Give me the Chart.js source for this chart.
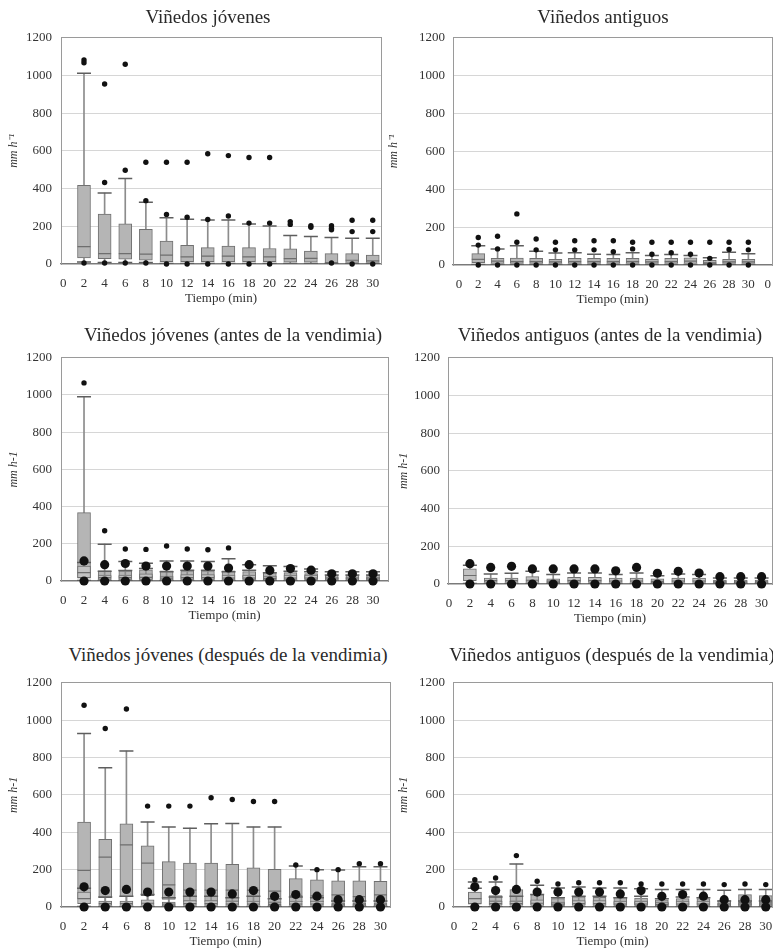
<!DOCTYPE html>
<html>
<head>
<meta charset="utf-8">
<script src="https://cdn.jsdelivr.net/npm/chart.js@4.4.0/dist/chart.umd.min.js"></script>
<style>
  body { margin: 0; background: #fff; width: 773px; height: 952px; position: relative; overflow: hidden; font-family: "Liberation Serif", serif; }
  canvas { position: absolute; }
  .ttl { position: absolute; font-size: 19px; color: #2a2a2a; white-space: nowrap; transform: translate(-50%, -50%); }
</style>
</head>
<body>
<script>
// x categories (minutes) and axis ticks
const tiempo = [2, 4, 6, 8, 10, 12, 14, 16, 18, 20, 22, 24, 26, 28, 30];
const ejeX = [0, 2, 4, 6, 8, 10, 12, 14, 16, 18, 20, 22, 24, 26, 28, 30];
const ejeXLabels = ['0', '2', '4', '6', '8', '10', '12', '14', '16', '18', '20', '22', '24', '26', '28', '30'];
// the "Viñedos antiguos" panel has an extra empty category labelled 0
const ejeXAnt = [0, 2, 4, 6, 8, 10, 12, 14, 16, 18, 20, 22, 24, 26, 28, 30, 32];
const ejeXAntLabels = ['0', '2', '4', '6', '8', '10', '12', '14', '16', '18', '20', '22', '24', '26', '28', '30', '0'];

// Viñedos jóvenes
const jovMin = [10, 8, 8, 8, 3, 3, 3, 3, 3, 3, 3, 3, 2, 2, 2];
const jovQ1 = [32, 28, 25, 20, 12, 12, 12, 12, 12, 12, 10, 10, 3, 8, 8];
const jovMed = [92, 55, 55, 52, 47, 38, 42, 42, 38, 38, 28, 30, 8, 20, 17];
const jovQ3 = [418, 265, 213, 184, 121, 99, 87, 95, 87, 82, 80, 68, 55, 55, 47];
const jovMax = [1012, 376, 454, 328, 246, 238, 234, 234, 212, 202, 151, 146, 141, 136, 136];
const jovOut = [[1082, 1068, 5], [955, 432, 5], [1060, 497, 5], [540, 336, 5], [540, 263, 0], [540, 248, 0], [585, 236, 0],
  [575, 255, 0], [565, 217, 0], [565, 217, 0], [225, 210], [203, 195], [203, 190, 182, 5], [232, 172, 0], [232, 172, 0]];

// Viñedos antiguos
const antMin = [2, 2, 2, 2, 2, 2, 2, 2, 2, 2, 2, 2, 2, 2, 2];
const antQ1 = [12, 8, 8, 8, 8, 8, 8, 8, 8, 8, 8, 8, 6, 8, 8];
const antMed = [30, 20, 18, 18, 16, 18, 18, 18, 18, 16, 18, 20, 12, 16, 16];
const antQ3 = [60, 35, 37, 35, 30, 35, 35, 35, 35, 30, 35, 38, 25, 30, 30];
const antMax = [102, 85, 102, 72, 64, 65, 57, 55, 65, 50, 55, 50, 38, 68, 60];
const antOut = [[145, 105, 0], [152, 85, 0], [270, 120, 0], [137, 80, 0], [120, 80, 0], [128, 80, 0], [128, 80, 0],
  [128, 70, 0], [120, 85, 0], [120, 57, 0], [120, 65, 0], [120, 57, 0], [120, 35, 0], [120, 82, 0], [120, 80, 0]];

// Viñedos jóvenes (antes de la vendimia)
const jovAntesMin = [3, 3, 3, 3, 3, 3, 3, 3, 3, 3, 3, 3, 2, 2, 2];
const jovAntesQ1 = [15, 8, 8, 8, 8, 8, 8, 8, 8, 8, 8, 8, 5, 5, 5];
const jovAntesMed = [45, 25, 25, 25, 22, 25, 25, 25, 25, 22, 22, 22, 15, 15, 15];
const jovAntesQ3 = [368, 55, 55, 60, 55, 55, 55, 55, 50, 45, 45, 40, 30, 30, 30];
const jovAntesMax = [990, 198, 105, 95, 108, 108, 105, 120, 88, 82, 78, 65, 50, 50, 50];
const jovAntesOut = [[1065], [270], [172], [170], [188], [172], [168], [178], [], [], [], [], [], [], []];

// Viñedos antiguos (antes de la vendimia) - also overlaid on the other lower panels
const antAntesMin = [2, 2, 2, 2, 2, 2, 2, 2, 2, 2, 2, 2, 2, 2, 2];
const antAntesQ1 = [18, 8, 8, 8, 6, 8, 8, 8, 8, 6, 8, 8, 5, 5, 5];
const antAntesMed = [45, 18, 18, 20, 15, 18, 18, 16, 16, 14, 16, 16, 12, 12, 12];
const antAntesQ3 = [80, 32, 32, 39, 27, 35, 35, 32, 32, 27, 32, 32, 21, 21, 21];
const antAntesMax = [100, 53, 57, 67, 50, 58, 58, 50, 58, 44, 53, 50, 32, 32, 32];
const antAntesOut = [[108, 0], [88, 0], [94, 0], [80, 0], [80, 0], [80, 0], [80, 0], [70, 0], [88, 0], [57, 0],
  [67, 0], [58, 0], [39, 0], [39, 0], [39, 0]];

// Viñedos jóvenes (después de la vendimia)
const jovDespMin = [3, 3, 3, 3, 3, 3, 3, 3, 3, 3, 3, 3, 3, 3, 3];
const jovDespQ1 = [45, 50, 55, 60, 40, 30, 30, 30, 28, 25, 28, 28, 25, 25, 25];
const jovDespMed = [196, 267, 333, 235, 118, 90, 90, 90, 90, 85, 60, 60, 65, 55, 65];
const jovDespQ3 = [455, 362, 445, 327, 243, 235, 235, 228, 210, 202, 152, 145, 140, 140, 137];
const jovDespMax = [928, 745, 835, 455, 428, 422, 445, 447, 428, 428, 220, 200, 198, 215, 215];
const jovDespOut = [[1080], [955], [1060], [540], [540], [540], [585], [575], [565], [565], [225], [200], [200], [232], [232]];

// Viñedos antiguos (después de la vendimia)
const antDespMin = [2, 2, 2, 2, 2, 2, 2, 2, 2, 2, 2, 2, 2, 2, 2];
const antDespQ1 = [15, 12, 12, 10, 8, 10, 8, 8, 8, 6, 8, 8, 6, 8, 8];
const antDespMed = [45, 30, 30, 28, 20, 25, 22, 22, 22, 18, 20, 20, 15, 25, 22];
const antDespQ3 = [79, 61, 93, 66, 45, 54, 52, 52, 48, 39, 45, 45, 34, 66, 61];
const antDespMax = [134, 134, 230, 116, 102, 107, 102, 102, 98, 93, 93, 93, 89, 93, 93];
const antDespOut = [[146], [155], [275], [138], [123], [130], [130], [130], [123], [123], [123], [123], [120], [123], [120]];

Chart.defaults.font.family = '"Liberation Serif", serif';
Chart.defaults.color = '#333';

const jov = { min: jovMin, q1: jovQ1, med: jovMed, q3: jovQ3, max: jovMax, out: jovOut };
const ant = { min: antMin, q1: antQ1, med: antMed, q3: antQ3, max: antMax, out: antOut };
const jovAntes = { min: jovAntesMin, q1: jovAntesQ1, med: jovAntesMed, q3: jovAntesQ3, max: jovAntesMax, out: jovAntesOut };
const antAntes = { min: antAntesMin, q1: antAntesQ1, med: antAntesMed, q3: antAntesQ3, max: antAntesMax, out: antAntesOut, big: true };
const jovDesp = { min: jovDespMin, q1: jovDespQ1, med: jovDespMed, q3: jovDespQ3, max: jovDespMax, out: jovDespOut };
const antDesp = { min: antDespMin, q1: antDespQ1, med: antDespMed, q3: antDespQ3, max: antDespMax, out: antDespOut };

// plot boxes: [left, top, right, bottom] in page px, plus canvas left and title positions
const panels = [
  { title: 'Viñedos jóvenes', tx: 208, ty: 17, yTitle: 'mm h⁻¹', series: [jov], ticks: ejeX, labels: ejeXLabels,
    plot: [61, 33, 381, 264], cl: 0, xmin: -0.23, xmax: 30.8, yPad: 9, tPad: 7 },
  { title: 'Viñedos antiguos', tx: 603, ty: 17, yTitle: 'mm h⁻¹', series: [ant], ticks: ejeXAnt, labels: ejeXAntLabels,
    plot: [453, 34, 772, 265], cl: 385, xmin: -0.62, xmax: 32.45, yPad: 8, tPad: 2 },
  { title: 'Viñedos jóvenes (antes de la vendimia)', tx: 233, ty: 335, yTitle: 'mm h-1', series: [jovAntes, antAntes], ticks: ejeX, labels: ejeXLabels,
    plot: [61, 353, 388, 581], cl: 0, xmin: -0.23, xmax: 31.45, yPad: 9, tPad: 7 },
  { title: 'Viñedos antiguos (antes de la vendimia)', tx: 610, ty: 335, yTitle: 'mm h-1', series: [antAntes], ticks: ejeX, labels: ejeXLabels,
    plot: [448, 354, 772, 584], cl: 385, xmin: -0.1, xmax: 31.0, yPad: 8, tPad: 12 },
  { title: 'Viñedos jóvenes (después de la vendimia)', tx: 228, ty: 655, yTitle: 'mm h-1', series: [jovDesp, antAntes], ticks: ejeX, labels: ejeXLabels,
    plot: [61, 678, 390, 907], cl: 0, xmin: -0.18, xmax: 30.9, yPad: 9, tPad: 7 },
  { title: 'Viñedos antiguos (después de la vendimia)', tx: 612, ty: 655, yTitle: 'mm h-1', series: [antDesp, antAntes], ticks: ejeX, labels: ejeXLabels,
    plot: [453, 679, 772, 907], cl: 385, xmin: -0.1, xmax: 30.6, yPad: 8, tPad: 12 }
];

function boxDatasets(s, base) {
  const pts = arr => tiempo.map((t, i) => ({ x: t, y: arr[i] }));
  const range = (a, b) => tiempo.map((t, i) => ({ x: t, y: [a[i], b[i]] }));
  const outliers = tiempo.flatMap((t, i) => s.out[i].map(v => ({ x: t, y: v })));
  return [
    { type: 'bar', data: range(s.q3, s.max), backgroundColor: '#8c8c8c', barThickness: 1, grouped: false, order: base + 6 },
    { type: 'bar', data: range(s.min, s.q1), backgroundColor: '#8c8c8c', barThickness: 1, grouped: false, order: base + 6 },
    { type: 'bar', data: range(s.q1, s.q3), backgroundColor: s.big ? '#c2c2c2' : '#b5b5b5', borderColor: '#707070',
      borderWidth: 1, borderSkipped: false, barThickness: 13, grouped: false, order: base + 5 },
    { type: 'scatter', data: pts(s.med), pointStyle: 'line', pointRadius: 6.5, borderColor: '#6e6e6e', borderWidth: 1.2, order: base + 4 },
    { type: 'scatter', data: pts(s.max).concat(pts(s.min)), pointStyle: 'line', pointRadius: 7, borderColor: '#5e5e5e', borderWidth: 1.5, order: base + 4 },
    { type: 'scatter', data: outliers, pointStyle: 'circle', pointRadius: s.big ? 4.6 : 2.7, backgroundColor: '#111', borderWidth: 0, clip: false, order: base + 3 }
  ];
}

panels.forEach(p => {
  const [pl, pt, pr, pb] = p.plot;
  const topPad = 12, xh = 44;
  const cw = p.cl === 0 ? pr + 4 : 773 - p.cl;
  const ch = topPad + (pb - pt) + xh;
  const canvas = document.createElement('canvas');
  canvas.width = cw; canvas.height = ch;
  canvas.style.left = p.cl + 'px';
  canvas.style.top = (pt - topPad) + 'px';
  document.body.appendChild(canvas);

  const t = document.createElement('div');
  t.className = 'ttl';
  t.textContent = p.title;
  t.style.left = p.tx + 'px';
  t.style.top = p.ty + 'px';
  document.body.appendChild(t);

  // main series first (drawn underneath), overlay after
  let datasets = [];
  p.series.forEach((s, k) => { datasets = datasets.concat(boxDatasets(s, (p.series.length - k) * 10)); });

  new Chart(canvas, {
    type: 'bar',
    data: { datasets: datasets },
    options: {
      responsive: false,
      animation: false,
      events: [],
      layout: { autoPadding: false, padding: { left: 0, top: topPad, right: cw - (pr - p.cl), bottom: 0 } },
      plugins: { legend: { display: false }, tooltip: { enabled: false } },
      scales: {
        x: {
          type: 'linear', min: p.xmin, max: p.xmax, offset: false,
          // tick marks hidden, tickLength only pushes the labels down
          grid: { display: false, drawTicks: true, tickLength: 12 },
          border: { color: '#7a7a7a', width: 1.2 },
          afterBuildTicks: axis => { axis.ticks = p.ticks.map(v => ({ value: v })); },
          afterFit: axis => {
            axis.height = xh;
            axis.paddingLeft = 0; axis.paddingRight = 0;
          },
          ticks: { padding: 0, font: { size: 13 }, color: '#333', maxRotation: 0, autoSkip: false,
            callback: (v, i) => p.labels[i] },
          title: { display: true, text: 'Tiempo (min)', font: { size: 13 }, color: '#333', padding: { top: 0, bottom: 2 } }
        },
        y: {
          min: 0, max: 1200,
          grid: { color: ctx => ctx.tick && ctx.tick.value === 1200 ? '#9a9a9a' : '#d6d6d6', drawTicks: false, lineWidth: 1 },
          border: { color: '#9a9a9a' },
          afterFit: axis => { axis.width = pl - p.cl; },
          ticks: { stepSize: 200, padding: p.yPad, font: { size: 13 }, color: '#333', callback: v => String(v) },
          title: { display: true, text: p.yTitle, font: { size: 12, style: 'italic' }, color: '#333', padding: { top: p.tPad, bottom: 0 } }
        },
        y2: {
          position: 'right', min: 0, max: 1200,
          grid: { display: false, drawTicks: false },
          border: { display: true, color: '#9a9a9a' },
          ticks: { display: false },
          afterFit: axis => { axis.width = 0; }
        }
      }
    }
  });
});
</script>
</body>
</html>
